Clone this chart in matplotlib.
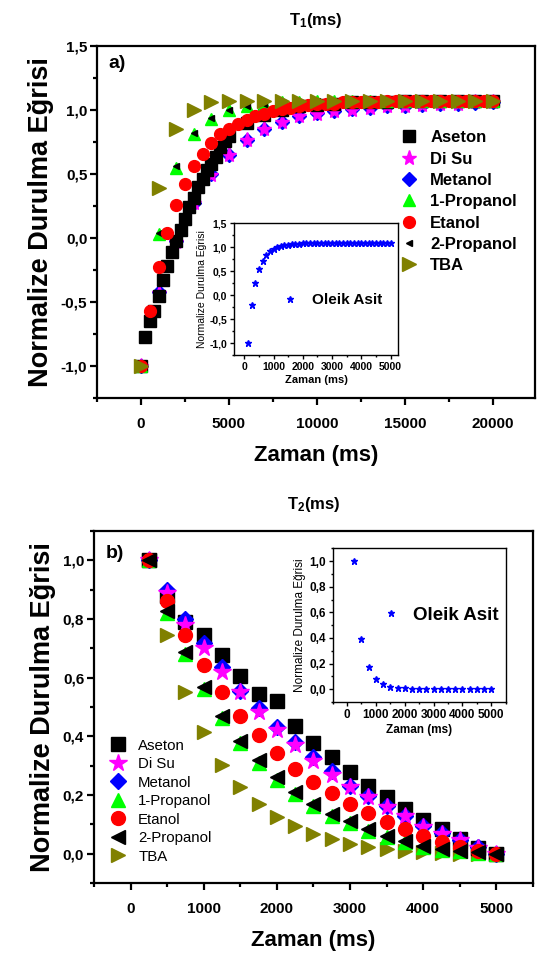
import matplotlib
matplotlib.use('Agg')
import matplotlib.pyplot as plt
from matplotlib.ticker import MultipleLocator, FuncFormatter

plt.rcParams['font.family'] = ['Liberation Sans', 'DejaVu Sans']
plt.rcParams['font.weight'] = 'bold'
plt.rcParams['mathtext.fontset'] = 'custom'
plt.rcParams['mathtext.rm'] = 'Liberation Sans:bold'
plt.rcParams['mathtext.default'] = 'rm'

names = ['Aseton', 'Di Su', 'Metanol', '1-Propanol', 'Etanol', '2-Propanol', 'TBA']

# ---- T1 data (ms, normalized curve) ----
t1_x_1000 = [0, 1000, 2000, 3000, 4000, 5000, 6000, 7000, 8000, 9000, 10000,
             11000, 12000, 13000, 14000, 15000, 16000, 17000, 18000, 19000, 20000]
t1_x_500 = [0, 500, 1000, 1500, 2000, 2500, 3000, 3500, 4000, 4500, 5000,
            5500, 6000, 6500, 7000, 7500, 8000, 8500, 9000, 9500, 10000,
            10500, 11000, 11500, 12000, 12500, 13000, 13500, 14000, 14500, 15000,
            15500, 16000, 16500, 17000, 17500, 18000, 18500, 19000, 19500, 20000]
t1_x_aseton = [0, 250, 500, 750, 1000, 1250, 1500, 1750, 2000, 2250, 2500,
               2750, 3000, 3250, 3500, 3750, 4000, 4250, 4500, 4750, 5000,
               6000, 7000, 8000, 9000, 10000, 11000, 12000, 13000, 14000, 15000,
               16000, 17000, 18000, 19000, 20000]

t1_aseton = [-1.0, -0.77, -0.65, -0.57, -0.45, -0.33, -0.22, -0.11, -0.02, 0.06, 0.15,
             0.24, 0.31, 0.40, 0.46, 0.53, 0.58, 0.63, 0.71, 0.76, 0.80,
             0.90, 0.96, 1.0, 1.03, 1.04, 1.05, 1.06, 1.06, 1.06, 1.07,
             1.07, 1.07, 1.07, 1.07, 1.07]
t1_disu = [-1.0, -0.43, -0.03, 0.27, 0.49, 0.65, 0.77, 0.85, 0.91, 0.95, 0.97,
           0.99, 1.0, 1.02, 1.03, 1.03, 1.04, 1.05, 1.05, 1.06, 1.06]
t1_metanol = [-1.0, -0.42, -0.02, 0.27, 0.50, 0.65, 0.77, 0.85, 0.91, 0.95, 0.975,
              0.99, 1.01, 1.02, 1.03, 1.035, 1.04, 1.045, 1.05, 1.055, 1.06]
t1_1propanol = [-1.0, 0.03, 0.55, 0.81, 0.93, 1.0, 1.03, 1.05, 1.06, 1.06, 1.07,
                1.07, 1.07, 1.07, 1.07, 1.07, 1.07, 1.07, 1.07, 1.07, 1.07]
t1_etanol = [-1.0, -0.57, -0.23, 0.04, 0.26, 0.42, 0.56, 0.66, 0.74, 0.81, 0.85,
             0.89, 0.92, 0.95, 0.97, 0.99, 1.01, 1.02, 1.03, 1.04, 1.05,
             1.05, 1.05, 1.06, 1.06, 1.06, 1.06, 1.06, 1.07, 1.07, 1.07,
             1.07, 1.07, 1.07, 1.07, 1.07, 1.07, 1.07, 1.07, 1.07, 1.07]
t1_2propanol = [-1.0, 0.04, 0.56, 0.82, 0.94, 1.0, 1.03, 1.05, 1.06, 1.06, 1.07,
                1.07, 1.07, 1.07, 1.07, 1.07, 1.07, 1.07, 1.07, 1.07, 1.07]
t1_tba = [-1.0, 0.39, 0.85, 1.0, 1.06, 1.07, 1.07, 1.07, 1.07, 1.07, 1.07,
          1.07, 1.07, 1.07, 1.07, 1.07, 1.07, 1.07, 1.07, 1.07, 1.07]

oleik_t1_x = [125, 250, 375, 500, 625, 750, 875, 1000, 1125, 1250, 1375, 1500, 1625,
              1750, 1875, 2000, 2125, 2250, 2375, 2500, 2625, 2750, 2875, 3000,
              3125, 3250, 3375, 3500, 3625, 3750, 3875, 4000, 4125, 4250, 4375,
              4500, 4625, 4750, 4875, 5000]
oleik_t1 = [-1.0, -0.21, 0.26, 0.54, 0.71, 0.83, 0.91, 0.96, 1.0, 1.02, 1.04, 1.05,
            1.06, 1.07, 1.07, 1.08, 1.08, 1.08, 1.08, 1.08, 1.08, 1.08, 1.08, 1.08,
            1.08, 1.08, 1.08, 1.08, 1.08, 1.08, 1.08, 1.08, 1.08, 1.08, 1.08,
            1.08, 1.08, 1.08, 1.08, 1.08]

# ---- T2 data ----
t2_x = [250, 500, 750, 1000, 1250, 1500, 1750, 2000, 2250, 2500,
        2750, 3000, 3250, 3500, 3750, 4000, 4250, 4500, 4750, 5000]
t2_aseton = [1.0, 0.88, 0.79, 0.744, 0.676, 0.607, 0.545, 0.522, 0.437, 0.376,
             0.329, 0.277, 0.232, 0.195, 0.152, 0.115, 0.084, 0.05, 0.02, 0.0]
t2_disu = [1.0, 0.89, 0.78, 0.70, 0.62, 0.55, 0.482, 0.423, 0.369, 0.317,
           0.27, 0.229, 0.192, 0.16, 0.128, 0.092, 0.067, 0.047, 0.02, 0.0]
t2_metanol = [1.0, 0.898, 0.80, 0.72, 0.636, 0.556, 0.497, 0.431, 0.38, 0.329,
              0.283, 0.232, 0.198, 0.164, 0.13, 0.095, 0.07, 0.048, 0.022, 0.0]
t2_1propanol = [1.0, 0.82, 0.68, 0.56, 0.462, 0.378, 0.31, 0.252, 0.202, 0.162,
                0.13, 0.104, 0.079, 0.057, 0.04, 0.024, 0.014, 0.008, 0.004, 0.0]
t2_etanol = [1.0, 0.863, 0.744, 0.642, 0.55, 0.471, 0.406, 0.344, 0.289, 0.243,
             0.206, 0.168, 0.14, 0.107, 0.083, 0.061, 0.039, 0.022, 0.008, 0.0]
t2_2propanol = [1.0, 0.829, 0.687, 0.568, 0.471, 0.385, 0.318, 0.26, 0.209, 0.168,
                0.137, 0.11, 0.084, 0.061, 0.044, 0.027, 0.016, 0.01, 0.005, 0.0]
t2_tba = [1.0, 0.745, 0.553, 0.414, 0.303, 0.226, 0.17, 0.124, 0.093, 0.067,
          0.05, 0.033, 0.023, 0.015, 0.01, 0.006, 0.003, 0.0, 0.0, 0.0]
oleik_t2 = [1.0, 0.388, 0.174, 0.078, 0.04, 0.016, 0.01, 0.006, 0.004, 0.003,
            0.002, 0.002, 0.001, 0.001, 0.0, 0.0, 0.0, 0.0, 0.0, 0.0]

comma = FuncFormatter(lambda v, p: ('%.1f' % v).replace('.', ','))


def style(ax, lw, major, minor, size):
    for s in ax.spines.values():
        s.set_linewidth(lw)
    ax.tick_params(which='both', direction='out', top=False, right=False, width=lw)
    ax.tick_params(which='major', length=major, labelsize=size, pad=2)
    ax.tick_params(which='minor', length=minor)


fig = plt.figure(figsize=(5.4, 9.64), dpi=100)

# ---------------- panel a) T1 ----------------
ax1 = fig.add_axes([0.1796, 0.5871, 0.8111, 0.3651])
ax1.plot(t1_x_aseton, t1_aseton, 's', color='black', ms=8, zorder=4)
ax1.plot(t1_x_1000, t1_disu, '*', color='#ff00ff', ms=11, zorder=3)
ax1.plot(t1_x_1000, t1_metanol, 'D', color='#0000ff', ms=7.5, zorder=2)
ax1.plot(t1_x_1000, t1_1propanol, '^', color='#00ff00', ms=9, zorder=5)
ax1.plot(t1_x_500, t1_etanol, 'o', color='#ff0000', ms=8.5, zorder=7)
ax1.plot(t1_x_1000, t1_2propanol, '<', color='black', ms=5, zorder=6)
ax1.plot(t1_x_1000, t1_tba, '>', color='#808000', ms=10, zorder=8)
ax1.set_xlim(-2500, 22400)
ax1.set_ylim(-1.25, 1.5)
ax1.xaxis.set_major_locator(MultipleLocator(5000))
ax1.xaxis.set_minor_locator(MultipleLocator(2500))
ax1.yaxis.set_major_locator(MultipleLocator(0.5))
ax1.yaxis.set_minor_locator(MultipleLocator(0.25))
ax1.yaxis.set_major_formatter(comma)
style(ax1, 1.6, 5, 3, 11)
ax1.tick_params(axis='x', pad=9)
ax1.set_xlabel('Zaman (ms)', fontsize=16, fontweight='bold', labelpad=10)
ax1.set_ylabel('Normalize Durulma Eğrisi', fontsize=19.5, fontweight='bold', labelpad=5)
ax1.set_title('T$_1$(ms)', fontsize=12, fontweight='bold', pad=15)
ax1.text(0.045, 0.951, 'a)', transform=ax1.transAxes, fontsize=14,
         fontweight='bold', ha='center', va='center')
handles1 = ax1.get_lines()
ax1.legend([handles1[i] for i in range(7)], names, loc='upper left',
           bbox_to_anchor=(0.694, 0.761), frameon=False, fontsize=12,
           handlelength=1.0, handletextpad=0.75, labelspacing=0.38,
           borderaxespad=0, borderpad=0)

in1 = fig.add_axes([0.4333, 0.6317, 0.3037, 0.1369])
in1.plot(oleik_t1_x, oleik_t1, '*', color='#0000ff', ms=5, label='Oleik Asit')
in1.set_xlim(-350, 5250)
in1.set_ylim(-1.25, 1.5)
in1.xaxis.set_major_locator(MultipleLocator(1000))
in1.xaxis.set_minor_locator(MultipleLocator(500))
in1.yaxis.set_major_locator(MultipleLocator(0.5))
in1.yaxis.set_minor_locator(MultipleLocator(0.25))
in1.yaxis.set_major_formatter(comma)
style(in1, 1.0, 3, 1.5, 7.5)
in1.set_xlabel('Zaman (ms)', fontsize=8, fontweight='bold', labelpad=2)
in1.set_ylabel('Normalize Durulma Eğrisi', fontsize=7.5, fontweight='normal', labelpad=2)
in1.legend(loc='center left', bbox_to_anchor=(0.296, 0.417), frameon=False,
           fontsize=11, handlelength=1.0, handletextpad=0.9,
           borderaxespad=0, borderpad=0)

# ---------------- panel b) T2 ----------------
ax2 = fig.add_axes([0.174, 0.0840, 0.813, 0.3651])
ax2.plot(t2_x, t2_aseton, 's', color='black', ms=9.5, zorder=3)
ax2.plot(t2_x, t2_disu, '*', color='#ff00ff', ms=13, zorder=5)
ax2.plot(t2_x, t2_metanol, 'D', color='#0000ff', ms=8, zorder=4)
ax2.plot(t2_x, t2_1propanol, '^', color='#00ff00', ms=10, zorder=6)
ax2.plot(t2_x, t2_etanol, 'o', color='#ff0000', ms=10, zorder=7)
ax2.plot(t2_x, t2_2propanol, '<', color='black', ms=10, zorder=8)
ax2.plot(t2_x, t2_tba, '>', color='#808000', ms=10.5, zorder=2)
ax2.set_xlim(-500, 5500)
ax2.set_ylim(-0.1, 1.1)
ax2.xaxis.set_major_locator(MultipleLocator(1000))
ax2.xaxis.set_minor_locator(MultipleLocator(500))
ax2.yaxis.set_major_locator(MultipleLocator(0.2))
ax2.yaxis.set_minor_locator(MultipleLocator(0.1))
ax2.yaxis.set_major_formatter(comma)
style(ax2, 1.6, 5, 3, 11)
ax2.tick_params(axis='x', pad=9)
ax2.set_xlabel('Zaman (ms)', fontsize=16, fontweight='bold', labelpad=10)
ax2.set_ylabel('Normalize Durulma Eğrisi', fontsize=19.5, fontweight='bold', labelpad=5)
ax2.set_title('T$_2$(ms)', fontsize=12, fontweight='bold', pad=16)
ax2.text(0.048, 0.9375, 'b)', transform=ax2.transAxes, fontsize=14,
         fontweight='bold', ha='center', va='center')
handles2 = ax2.get_lines()
ax2.legend([handles2[i] for i in range(7)], names, loc='upper left',
           bbox_to_anchor=(0.034, 0.41), frameon=False,
           prop={'size': 10.8, 'weight': 'normal'}, handlelength=1.2,
           handletextpad=0.75, labelspacing=0.3, borderaxespad=0, borderpad=0)

in2 = fig.add_axes([0.616, 0.2718, 0.3204, 0.1594])
in2.plot(t2_x, oleik_t2, '*', color='#0000ff', ms=5, label='Oleik Asit')
in2.set_xlim(-500, 5500)
in2.set_ylim(-0.1, 1.1)
in2.xaxis.set_major_locator(MultipleLocator(1000))
in2.xaxis.set_minor_locator(MultipleLocator(500))
in2.yaxis.set_major_locator(MultipleLocator(0.2))
in2.yaxis.set_minor_locator(MultipleLocator(0.1))
in2.yaxis.set_major_formatter(comma)
style(in2, 1.0, 3, 1.5, 8.5)
in2.set_xlabel('Zaman (ms)', fontsize=8.5, fontweight='bold', labelpad=2)
in2.set_ylabel('Normalize Durulma Eğrisi', fontsize=8.5, fontweight='normal', labelpad=2)
in2.legend(loc='center left', bbox_to_anchor=(0.283, 0.566), frameon=False,
           fontsize=13.5, handlelength=1.0, handletextpad=0.7,
           borderaxespad=0, borderpad=0)

fig.savefig('out.png', dpi=100)
